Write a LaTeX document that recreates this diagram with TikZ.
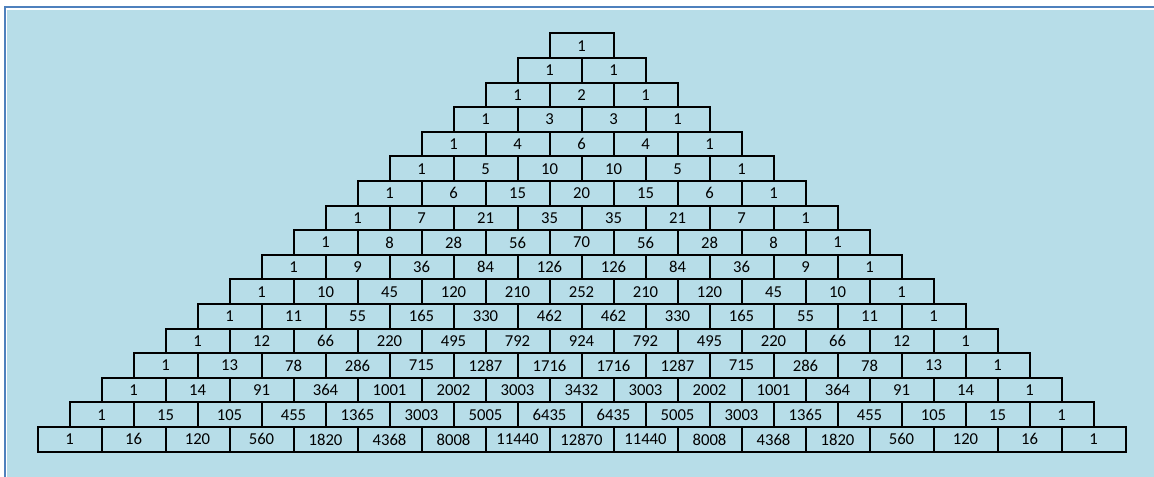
\documentclass[tikz,border=0pt]{standalone}
\usepackage{fontspec}
\setmainfont{Carlito}
\definecolor{bgfill}{HTML}{B7DDE8}
\definecolor{frameblue}{HTML}{4F81BD}
\tikzset{
  cell/.style={draw=black, line width=1.5pt, minimum width=48pt, minimum height=18.45pt,
    inner sep=0pt, font=\fontsize{12.5}{14}\selectfont, text=black}
}
\begin{document}
\begin{tikzpicture}[x=0.75pt,y=-0.75pt]
\useasboundingbox (0,0) rectangle (1154,477);
\fill[white] (0,0) rectangle (1154,477);
\fill[bgfill] (7,10) rectangle (1154,477);
\draw[frameblue, line width=1.5pt] (4.5,477) -- (4.5,7.5) -- (1154,7.5);
\foreach \row [count=\r from 0] in {{1},{1,1},{1,2,1},{1,3,3,1},{1,4,6,4,1},{1,5,10,10,5,1},{1,6,15,20,15,6,1},{1,7,21,35,35,21,7,1},{1,8,28,56,70,56,28,8,1},{1,9,36,84,126,126,84,36,9,1},{1,10,45,120,210,252,210,120,45,10,1},{1,11,55,165,330,462,462,330,165,55,11,1},{1,12,66,220,495,792,924,792,495,220,66,12,1},{1,13,78,286,715,1287,1716,1716,1287,715,286,78,13,1},{1,14,91,364,1001,2002,3003,3432,3003,2002,1001,364,91,14,1},{1,15,105,455,1365,3003,5005,6435,6435,5005,3003,1365,455,105,15,1},{1,16,120,560,1820,4368,8008,11440,12870,11440,8008,4368,1820,560,120,16,1}}{
  \foreach \v [count=\k from 0] in \row {
    \node[cell] (c-\r-\k) at ({581.5-\r*32+\k*64},{45.8+\r*24.6}) {\raisebox{-1pt}{\v}};
  }
}
\end{tikzpicture}
\end{document}
